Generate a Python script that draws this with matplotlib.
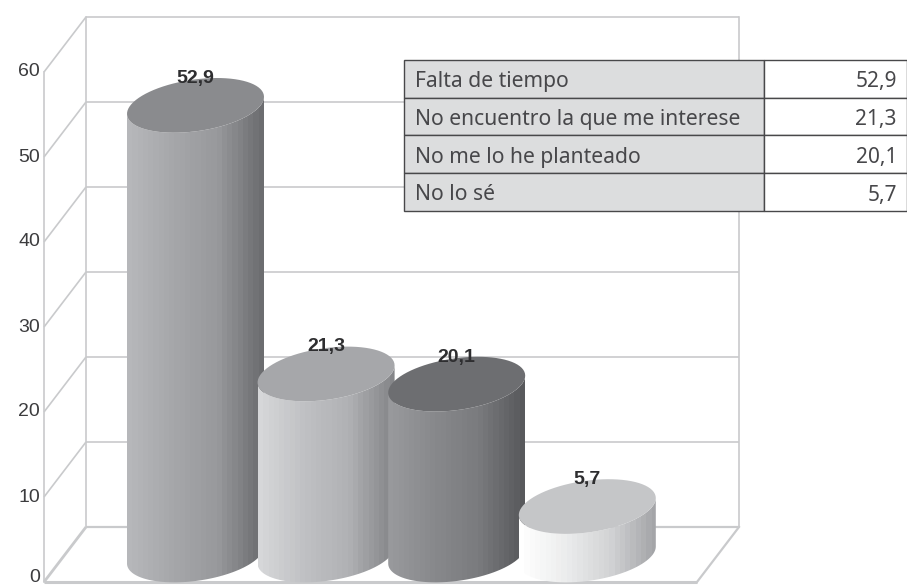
import numpy as np
import matplotlib
matplotlib.use("Agg")
import matplotlib.pyplot as plt
from matplotlib.patches import Polygon, Rectangle

# --- data ---
categories = ["Falta de tiempo", "No encuentro la que me interese",
              "No me lo he planteado", "No lo sé"]
values = [52.9, 21.3, 20.1, 5.7]
value_labels = ["52,9", "21,3", "20,1", "5,7"]
y_ticks = [0, 10, 20, 30, 40, 50, 60]

# --- styles ---
side_stops = [
    ["#b6b7ba", "#a6a7aa", "#98999c", "#6c6d70"],
    ["#d6d7d9", "#c0c1c4", "#b0b1b4", "#858689"],
    ["#98999c", "#88898c", "#7a7b7e", "#58595c"],
    ["#ffffff", "#eceded", "#d2d3d5", "#a4a5a8"],
]
top_colors = ["#8a8b8e", "#a6a7aa", "#6d6e71", "#c5c6c8"]
GRID = "#c9cacc"

W, H = 907, 585
fig = plt.figure(figsize=(W / 100, H / 100), dpi=100, facecolor="white")

# pixel layer for the box of the 3D chart
chrome = fig.add_axes([0, 0, 1, 1], zorder=0)
chrome.set_xlim(0, W)
chrome.set_ylim(H, 0)
chrome.axis("off")

UNIT = 8.5          # px per value unit
FRONT_Y0, BACK_Y0 = 582, 527
FRONT_X, BACK_X, BACK_RIGHT, FRONT_RIGHT = 44, 86, 739, 697
for t in y_ticks:
    fy, by = FRONT_Y0 - t * UNIT, BACK_Y0 - t * UNIT
    lw = 2.0 if t == 0 else 1.2
    chrome.plot([FRONT_X, BACK_X], [fy, by], color=GRID, lw=lw, solid_capstyle="butt")
    chrome.plot([BACK_X, BACK_RIGHT], [by, by], color=GRID, lw=1.2 if t else 1.6, solid_capstyle="butt")
    chrome.text(FRONT_X - 4, min(fy, 577.5), str(t), ha="right", va="center", fontsize=14,
                family="Liberation Sans", color="#3c3c3e")
chrome.plot([FRONT_X, FRONT_X], [FRONT_Y0, FRONT_Y0 - 60 * UNIT], color=GRID, lw=1.2)
chrome.plot([BACK_X, BACK_X], [BACK_Y0, BACK_Y0 - 60 * UNIT], color=GRID, lw=1.2)
chrome.plot([BACK_RIGHT, BACK_RIGHT], [BACK_Y0, BACK_Y0 - 60 * UNIT], color=GRID, lw=1.2)
chrome.plot([FRONT_X, FRONT_RIGHT], [FRONT_Y0, FRONT_Y0], color=GRID, lw=2.2, solid_capstyle="butt")
chrome.plot([FRONT_RIGHT, BACK_RIGHT], [FRONT_Y0, BACK_Y0], color=GRID, lw=1.6)

# data layer: x = category index, y = value
X0, DX, BASE_Y = 195.5, 130.6, 555
ax = fig.add_axes([0, 0, 1, 1], zorder=1)
ax.patch.set_alpha(0)
ax.axis("off")

HALF_W = 68.5 / DX
B = 26 / UNIT       # minor half-height of the top ellipse
S = 8.5 / UNIT      # shear of the ellipse (right side higher)
N_BANDS = 26


def ring(cx, level, a, b):
    """Angle a..b along the sheared ellipse centred on (cx, level)."""
    t = np.linspace(a, b, 80)
    return np.column_stack([cx + HALF_W * np.cos(t),
                            level + B * np.sin(t) + S * np.cos(t)])


for i, (v, lab) in enumerate(zip(values, value_labels)):
    z = 2 + i
    # side wall: along the front of the base, then back over the rim at the top
    front = ring(i, 0, np.pi, 2 * np.pi)
    top_rim = ring(i, v, 2 * np.pi, np.pi)
    side = Polygon(np.vstack([front, top_rim]), closed=True, transform=ax.transData,
                   fc="none", ec="none")
    ax.add_patch(side)
    rgb = np.array([matplotlib.colors.to_rgb(c) for c in side_stops[i]])
    pos = np.linspace(0, 1, N_BANDS)
    band = np.column_stack([np.interp(pos, np.linspace(0, 1, 4), rgb[:, k]) for k in range(3)])
    im = ax.imshow(band[np.newaxis, :, :], extent=[i - HALF_W, i + HALF_W, -B - S, v + B + S],
                   aspect="auto", interpolation="nearest", zorder=z)
    im.set_clip_path(side)
    ell = ring(i, v, 0, 2 * np.pi)
    ax.add_patch(Polygon(ell, closed=True, fc=top_colors[i], ec="none", zorder=z + 0.1))
    ax.annotate(lab, (i, v), xytext=(0, 27), textcoords="offset pixels",
                ha="center", va="center", fontsize=14, fontweight="bold",
                family="Liberation Sans", color="#2e2e30", zorder=10)
ax.set_xlim(-X0 / DX, (W - X0) / DX)
ax.set_ylim((BASE_Y - H) / UNIT, BASE_Y / UNIT)

# table
TL, TM, TR = 404, 764, 907
ROWS = [59.5, 97.5, 135, 173, 211]
tr = chrome.transData
for r, (cat, lab) in enumerate(zip(categories, value_labels)):
    y0, y1 = ROWS[r], ROWS[r + 1]
    ax.add_patch(Rectangle((TL, y0), TM - TL, y1 - y0, transform=tr, fc="#dcddde",
                           ec="#48484a", lw=1.0, zorder=20))
    ax.add_patch(Rectangle((TM, y0), TR - TM, y1 - y0, transform=tr, fc="white",
                           ec="#48484a", lw=1.0, zorder=20))
    ax.text(TL + 11, y1 - 10.5, cat, transform=tr, ha="left", va="baseline",
            fontsize=15.2, family="Noto Sans", color="#47474a", zorder=21)
    ax.text(TR - 10, y1 - 10.5, lab, transform=tr, ha="right", va="baseline",
            fontsize=15, family="Noto Sans", color="#47474a", zorder=21)

fig.savefig("out.png", dpi=100, facecolor="white")
